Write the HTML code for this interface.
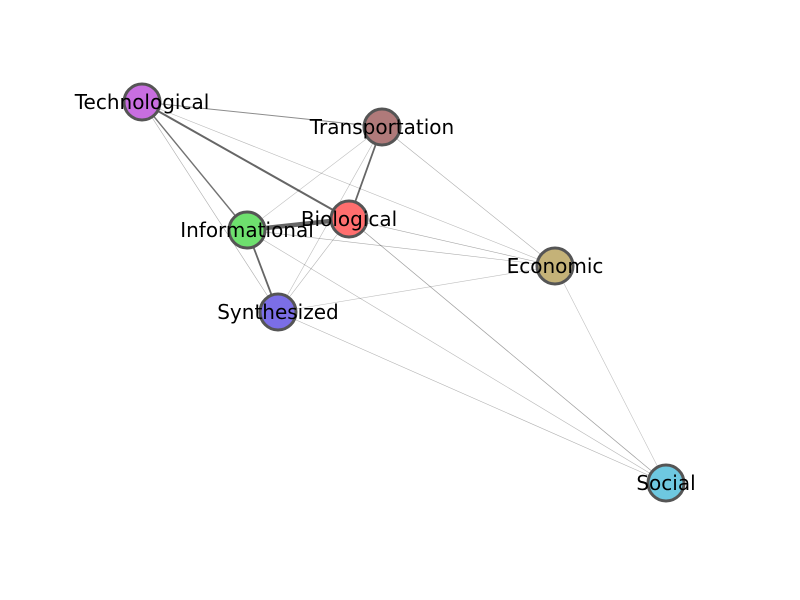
<!DOCTYPE html>
<html><head><meta charset="utf-8"><style>
html,body{margin:0;padding:0;background:#fff;}
svg{display:block;font-family:"DejaVu Sans","Liberation Sans",sans-serif;}
</style></head><body>
<svg id="chart" width="800" height="600" viewBox="0 0 800 600"></svg>
<script>
const nodeNames = ["Technological","Transportation","Biological","Informational","Economic","Synthesized","Social"];
const nodeX = [142,382,349,247,555,278,666];
const nodeY = [102,127,219,230,266,312,483];
const nodeColors = ["#c86ee0","#b07a7a","#ff6e6e","#6ee06e","#c4b278","#7b6ee6","#6ec8e0"];
const edgeSource = [0,0,0,0,0,1,1,1,1,2,2,2,2,3,3,3,5,5,4];
const edgeTarget = [1,2,3,5,4,2,4,3,5,3,4,6,5,5,4,6,4,6,6];
const edgeWeight = [1.0,2.0,1.4,0.5,0.3,1.8,0.5,0.2,0.25,4.5,0.6,0.7,0.4,1.8,0.5,0.3,0.2,0.4,0.2];
const NS="http://www.w3.org/2000/svg";
const svg=document.getElementById('chart');
for(let i=0;i<edgeSource.length;i++){
  const a=edgeSource[i],b=edgeTarget[i],w=edgeWeight[i];
  const l=document.createElementNS(NS,'line');
  l.setAttribute('x1',nodeX[a]);l.setAttribute('y1',nodeY[a]);
  l.setAttribute('x2',nodeX[b]);l.setAttribute('y2',nodeY[b]);
  l.setAttribute('stroke','#000');
  l.setAttribute('stroke-opacity',Math.min(0.6,0.2+w*0.25));
  l.setAttribute('stroke-width',Math.max(0.6,w));
  
  
  svg.appendChild(l);
}
for(let i=0;i<nodeNames.length;i++){
  const c=document.createElementNS(NS,'circle');
  c.setAttribute('cx',nodeX[i]);c.setAttribute('cy',nodeY[i]);c.setAttribute('r',18);
  c.setAttribute('fill',nodeColors[i]);c.setAttribute('stroke','#555');c.setAttribute('stroke-width',3);
  
  
  svg.appendChild(c);
}
for(let i=0;i<nodeNames.length;i++){
  const t=document.createElementNS(NS,'text');
  t.setAttribute('x',nodeX[i]);t.setAttribute('y',nodeY[i]+7);
  t.setAttribute('text-anchor','middle');t.setAttribute('font-size','20');t.setAttribute('fill','#000');
  t.textContent=nodeNames[i];
  
  
  svg.appendChild(t);
}
</script>
</body></html>
